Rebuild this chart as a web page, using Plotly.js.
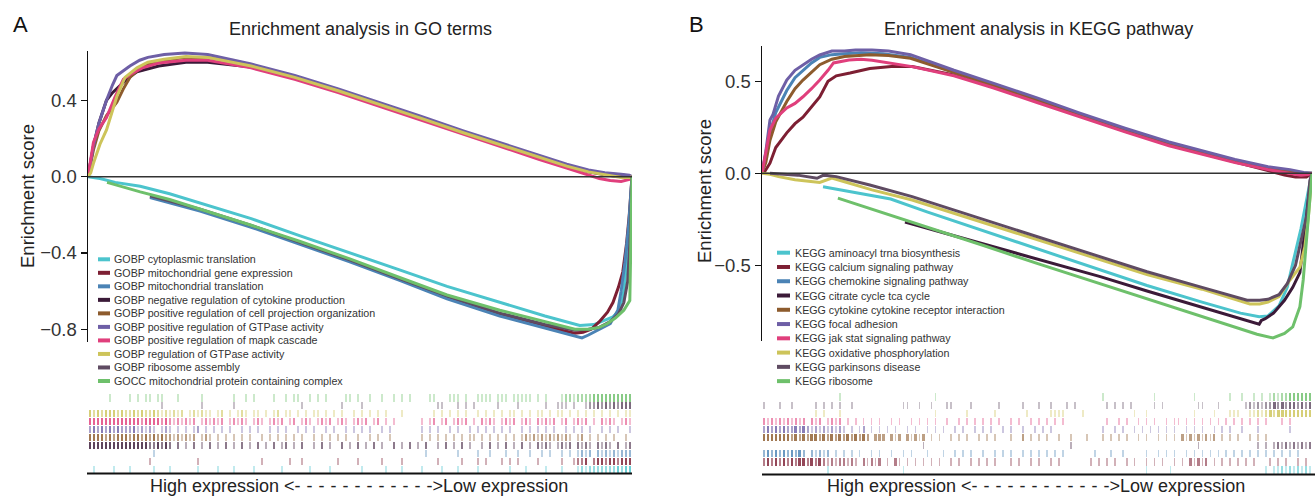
<!DOCTYPE html>
<html><head><meta charset="utf-8">
<script src="https://cdn.plot.ly/plotly-3.0.1.min.js"></script>
<style>html,body{margin:0;padding:0;background:#fff}#chart{width:1315px;height:496px}</style>
</head><body><div id="chart"></div>
<script>
// ---------------- DATA ----------------
// Panel A: GO terms (rank in % of ranked gene list, running enrichment score)
const goNames = [
  'GOBP cytoplasmic translation',
  'GOBP mitochondrial gene expression',
  'GOBP mitochondrial translation',
  'GOBP negative regulation of cytokine production',
  'GOBP positive regulation of cell projection organization',
  'GOBP positive regulation of GTPase activity',
  'GOBP positive regulation of mapk cascade',
  'GOBP regulation of GTPase activity',
  'GOBP ribosome assembly',
  'GOCC mitochondrial protein containing complex'
];
const go_cytoplasmic_translation = [[0,0],[2.2,-0.01],[5,-0.03],[9.6,-0.05],[15,-0.09],[20.6,-0.14],[30,-0.22],[39,-0.31],[48,-0.4],[57.4,-0.49],[66,-0.575],[75.7,-0.66],[84,-0.73],[90.4,-0.78],[93,-0.775],[96.5,-0.735],[97.8,-0.7],[98.5,-0.6],[99.2,-0.4],[99.7,-0.15],[100,0]];
const go_mito_gene_expression = [[11.4,-0.105],[20.6,-0.175],[30,-0.26],[39,-0.35],[48,-0.44],[57.4,-0.54],[66,-0.63],[75.7,-0.72],[84,-0.785],[89.5,-0.82],[91,-0.815],[92.5,-0.8],[94,-0.76],[95.5,-0.71],[96.5,-0.66],[97.5,-0.58],[98.3,-0.5],[99,-0.35],[99.5,-0.2],[100,0]];
const go_mito_translation = [[11.4,-0.11],[20.6,-0.18],[30,-0.265],[39,-0.355],[48,-0.445],[57.4,-0.545],[66,-0.64],[75.7,-0.73],[84,-0.795],[89.5,-0.835],[90.8,-0.845],[92,-0.83],[94,-0.8],[96,-0.77],[97.4,-0.7],[98,-0.6],[98.7,-0.45],[99.4,-0.25],[100,0]];
const go_neg_reg_cytokine = [[0,0],[1,0.16],[2,0.28],[3.4,0.4],[4.5,0.44],[6,0.48],[7.5,0.52],[9,0.55],[11,0.565],[13,0.58],[18,0.6],[22,0.6],[30,0.575],[38,0.52],[46,0.45],[54,0.375],[61,0.308],[69,0.23],[77,0.155],[83,0.1],[88,0.055],[92,0.025],[95,0.01],[98,0.0],[99.5,-0.005],[100,0]];
const go_cell_projection = [[0,0],[1,0.14],[2,0.24],[3.4,0.32],[5.3,0.39],[6.5,0.46],[7.7,0.52],[9.4,0.565],[11,0.59],[14,0.61],[18,0.625],[22,0.625],[30,0.585],[38,0.525],[46,0.455],[54,0.38],[61,0.312],[69,0.235],[77,0.16],[83,0.105],[88,0.06],[92,0.03],[95,0.015],[98,0.01],[99.6,0.005],[100,0]];
const go_pos_gtpase = [[0,0],[1,0.16],[2,0.28],[3.4,0.4],[4.5,0.48],[5.3,0.53],[7.7,0.58],[9.5,0.61],[11,0.625],[14,0.64],[17.8,0.648],[22,0.64],[30,0.59],[38,0.53],[46,0.46],[54,0.385],[61,0.318],[69,0.24],[77,0.165],[83,0.11],[88,0.065],[92,0.035],[95,0.02],[98,0.012],[99.5,0.008],[100,0]];
const go_pos_mapk = [[0,0],[1,0.18],[2,0.25],[3.4,0.31],[5,0.42],[6.5,0.51],[8,0.54],[10,0.57],[13,0.595],[18,0.61],[22,0.61],[30,0.57],[38,0.51],[46,0.44],[54,0.365],[61,0.298],[69,0.22],[77,0.145],[83,0.09],[88,0.045],[92,0.01],[94,-0.01],[96,-0.02],[98,-0.025],[99.5,-0.015],[100,0]];
const go_reg_gtpase = [[0,0],[0.5,0.02],[1,0.07],[2.2,0.17],[3.4,0.245],[5.3,0.42],[6.8,0.52],[9,0.57],[11,0.6],[14,0.615],[18,0.63],[22,0.625],[30,0.58],[38,0.52],[46,0.45],[54,0.375],[61,0.308],[69,0.23],[77,0.155],[83,0.1],[88,0.055],[92,0.025],[95,0.01],[98,-0.005],[99.5,-0.005],[100,0]];
const go_ribosome_assembly = [[11.4,-0.1],[20.6,-0.17],[30,-0.255],[39,-0.345],[48,-0.435],[57.4,-0.535],[66,-0.625],[75.7,-0.715],[84,-0.775],[89.5,-0.805],[92,-0.8],[94,-0.79],[96,-0.76],[97.5,-0.72],[98.5,-0.66],[99.2,-0.55],[99.7,-0.3],[100,0]];
const go_mito_protein_complex = [[3.5,-0.03],[9.6,-0.08],[15,-0.12],[20.6,-0.17],[30,-0.255],[39,-0.34],[48,-0.43],[57.4,-0.53],[66,-0.62],[75.7,-0.7],[84,-0.76],[89.5,-0.8],[92,-0.8],[94,-0.79],[95.5,-0.77],[97,-0.74],[98.5,-0.7],[99.6,-0.65],[100,0]];
// gene-set hits along the ranked list (one char per rank bin; '.' none, 1-3 density)
const goHits = [
  '.1....1... 1.....1... 1......1.. ..1...1... .1......1. .....1.... 1.......1. ....1...1. ...1....1. ..1....1.. .....1...1 ....1...1. ..12122222 223233',
  '.......... .....1.... .......1.. .......... ...1...... 1..1...... ..1....1.. ...1....1. .......1.. ...1...1.1 ...1.1.1.. ..1.....1. .1223.2332 332333',
  '.......... ......1... .......... .......... .......... .......... .......... .......... ....1..... ..1....1.. 1...1..1.. 1..1.1..1. 1.1212.212 121222',
  '3333333333 3333322323 2.2.1.2.1. 2.1.2.1.2. 1.2.1.2.12 .1.2..1.2. 1..2.1.2.1 .2.1..2.1. 2.1.2..1.2 .1.2.1..1. 2.1.2.1.2. 1.2121.121 2.2121.212 1.2.12',
  '3333232333 2332323232 2121212.12 1.1.1.1.1. 1..1.1.1.1 .1.1..1.1. 1.1.1..1.. 1.1..1.... ...1.1.1.1 .1.1.11.1. 1.1.1.1.12 1212121212 1.12.1.1.1 .1..1.',
  '2323232322 2312121.12 1.1.1.12.1 .1.1.1..1. 1.1..1.1.1 ..1.1.1..1 .1..1.1.1. 1..1.1.... ...1.1.1.. 1.1..1.1.1 .1.1.1..1. 1.1.1.1..1 .1.1.1..1. 1.1..1',
  '3333333333 3332333323 2121212.12 1212.12121 .121.1212. 12.121.121 2.121.1212 .12.1.1... ...1.12.12 .1212.1.21 21.1212.12 1.21212.12 .1212.1.21 21.121',
  '3232333232 2323223212 1212.12121 1.12.1.121 .11.1.12.1 1.1.1.11.1 .1.1..1.1. 1.1.1...1. ......1.1. 1.1.1..1.1 .1.1.11.1. 1.11.1.11. 1.1.1.1.1. 1.1.11',
  '.......... ........1. ........1. ......1... .......... ...1...... ...1....1. .......... .......11. ..1.1.1... ..1....1.. ....1..111 .1..122323 232333',
  '.....1.... 1.1.11.11. ..1.....1. ......1..1 .1....1..1 .11..1.1.1 ....11.1.. 1..1..1.1. 1....11... 111.1..111 1.111.1111 1.1.1...12 2122223333 333333'
];

// Panel B: KEGG pathways
const keggNames = [
  'KEGG aminoacyl trna biosynthesis',
  'KEGG calcium signaling pathway',
  'KEGG chemokine signaling pathway',
  'KEGG citrate cycle tca cycle',
  'KEGG cytokine cytokine receptor interaction',
  'KEGG focal adhesion',
  'KEGG jak stat signaling pathway',
  'KEGG oxidative phosphorylation',
  'KEGG parkinsons disease',
  'KEGG ribosome'
];
const kegg_aminoacyl_trna = [[11.1,-0.073],[15,-0.095],[23.4,-0.14],[30,-0.21],[40,-0.31],[50,-0.41],[61.5,-0.525],[70,-0.61],[80,-0.7],[87,-0.76],[90.4,-0.78],[92,-0.775],[94,-0.72],[95.5,-0.62],[96.5,-0.49],[98,-0.3],[99.3,-0.1],[100,0]];
const kegg_calcium = [[0,0],[0.5,0.01],[1.45,0.055],[2.5,0.14],[4.5,0.22],[6,0.27],[7.45,0.305],[9,0.36],[10.5,0.415],[12,0.5],[13.5,0.53],[16,0.545],[19.6,0.57],[23.5,0.58],[27.3,0.58],[34.9,0.535],[42,0.47],[50,0.39],[57.8,0.31],[66,0.23],[74,0.155],[80.6,0.105],[86,0.06],[92,0.015],[95,-0.01],[97,-0.02],[99,-0.02],[100,0]];
const kegg_chemokine = [[0,0],[0.7,0.1],[1.45,0.22],[2.5,0.33],[4.5,0.45],[6,0.52],[7.45,0.56],[9,0.6],[10.5,0.63],[12.7,0.645],[15,0.65],[18,0.655],[22,0.65],[27,0.63],[34.9,0.55],[42,0.48],[50,0.4],[57.8,0.318],[66,0.237],[74,0.163],[80.6,0.11],[86,0.068],[92,0.03],[96,0.012],[98.5,0],[100,0]];
const kegg_citrate_tca = [[26,-0.265],[35,-0.34],[45,-0.425],[55,-0.505],[61.5,-0.562],[70,-0.64],[80,-0.73],[88,-0.8],[90.4,-0.82],[90.8,-0.8],[91.5,-0.79],[93,-0.76],[95,-0.69],[96.5,-0.62],[97.8,-0.54],[98.7,-0.31],[99.3,-0.15],[100,0]];
const kegg_cytokine_receptor = [[0,0],[0.7,0.06],[1.45,0.18],[2.5,0.28],[4.5,0.39],[6,0.46],[7.45,0.507],[9,0.55],[10.5,0.59],[12.7,0.62],[15,0.635],[19.6,0.645],[23,0.64],[27,0.625],[34.9,0.55],[42,0.48],[50,0.4],[57.8,0.32],[66,0.24],[74,0.165],[80.6,0.112],[86,0.07],[92,0.03],[96,0.01],[98.5,0],[100,0]];
const kegg_focal_adhesion = [[0,0],[0.7,0.12],[1.45,0.29],[2,0.32],[3,0.42],[4.5,0.507],[6,0.56],[7.45,0.589],[9,0.62],[10.5,0.643],[12.7,0.665],[15,0.665],[17,0.67],[20,0.67],[23,0.665],[27,0.645],[34.9,0.56],[42,0.49],[50,0.41],[57.8,0.327],[66,0.245],[74,0.17],[80.6,0.117],[86,0.075],[92,0.036],[96,0.02],[98.5,0.005],[100,0]];
const kegg_jak_stat = [[0,0],[0.7,0.12],[1.45,0.235],[2.5,0.3],[4.5,0.355],[6,0.38],[7.45,0.416],[9,0.46],[10.5,0.507],[12,0.56],[13,0.6],[15.8,0.616],[18,0.62],[20,0.615],[23,0.6],[27.3,0.58],[34.9,0.53],[42,0.465],[50,0.385],[57.8,0.305],[66,0.225],[74,0.15],[80.6,0.1],[86,0.058],[92,0.02],[96,0],[98,-0.01],[99.5,-0.005],[100,0]];
const kegg_oxphos = [[0,0],[1.45,-0.005],[3,-0.018],[6,-0.035],[10.5,-0.05],[12.7,-0.026],[15,-0.046],[20,-0.09],[27.3,-0.145],[40,-0.266],[50,-0.36],[61.5,-0.47],[70,-0.55],[80,-0.63],[88.7,-0.71],[90.5,-0.71],[92,-0.7],[94,-0.67],[96,-0.58],[97.8,-0.51],[98.7,-0.4],[99.3,-0.25],[100,0]];
const kegg_parkinsons = [[1.45,0],[6.5,-0.01],[10,-0.027],[11.2,-0.01],[13.5,-0.018],[19.6,-0.064],[27.3,-0.127],[40,-0.248],[50,-0.344],[61.5,-0.454],[70,-0.535],[80,-0.62],[88.2,-0.69],[90.5,-0.69],[92,-0.685],[94,-0.66],[95.5,-0.6],[97,-0.5],[97.8,-0.4],[99.1,-0.22],[99.6,-0.04],[100,0]];
const kegg_ribosome = [[13.8,-0.135],[20,-0.195],[30,-0.29],[40,-0.39],[50,-0.49],[61.5,-0.6],[70,-0.685],[80,-0.78],[87,-0.845],[90,-0.875],[92.9,-0.895],[95,-0.87],[96.5,-0.835],[97.8,-0.725],[98.4,-0.58],[99.1,-0.31],[99.8,-0.035],[100,0]];
const keggHits = [
  '.......... ......1... .......... .....1.... .......... .......... .......... .......... .......... ......1... ..1....... .......... ......1.11 21212121',
  '2323232323 3232321212 2121.21212 .1.21.1.1. 1.1.1..1.1 ..1.1.1.1. ..1.1..1.1 ..1.1..... ..1.1.1.1. .1.1..1.1. 1..1.1.212 12.1.1.1.1 .1.1...1.1 .1..1.1.',
  '2323232323 2.21212.1. 1.1.1..1.1 ..1..1.1.. .1...1..1. 1.1..1..1. 1.1..1.1.1 .1.1.1.... ...1...1.. 1.....1..1 .1.1..1.1. 1.1.1.1.1. 1.1.1.1.1. 1.1.1...',
  '.......... .......... .......... .......... 1......... .......... .......... .......1.. .......... .......... .........1 .......... ....1.1.12 12121212',
  '3333333232 3233232323 2323232.22 2.212.2121 2.1.1..1.1 .1..1.1.1. ..1..2.1.1 .1..1..1.. .1...1.1.1 .1..1.1..1 .1.1.21212 1212.1.1.1 ..1.1.1... ........',
  '2323232232 3212121212 1.1.12.1.1 .1.1..1.1. .1.1.1..1. 1..1.1.1.. 1.1..1..1. 1.1....... .....1..1. 1..1.1.1.1 .1.1..1.1. 1..1.1.1.. 1...1..... ..1.....',
  '2121212121 2.212.1212 .1.1.1.1.1 ..1.1..1.1 .1.1..1..1 .1.1.1.1.1 ..1.1..1.1 .1.1.1.... ......1..1 .1..1.1.1. .1.11.1.1. 1.1.1.1.1. 1.1.1.1... 1.1.....',
  '.......... ...1.1...1 .......... .......... ...1...... .1......1. ......1... ..1111.... 1......... ...1..1... ........1. ...1...111 ..11212323 33333333',
  '1...1..1.. ...1.1.1.1 ..1....... .....11..1 ..1...11.. ..1......1 .....1...1 ..1...1.1. ......1.1. 1.1.....1. 1........1 1...1..... .121212232 32332323',
  '.......... .........1 .......... .......... ...1...... .......... .......... .......... .....1.... ........1. ........1. .......1.. 1..1.1.121 22333333'
];

const palette = ['#4cc4cd','#7d1f33','#4b83b5','#3b1a38','#8d5b2d','#6e5fa6','#e03f7c','#cdc45a','#5f4b62','#6ec06b'];
const goTicks = [-0.8,-0.4,0,0.4];
const goTickText = ['\u22120.8','\u22120.4','0.0','0.4'];
const keggTicks = [-0.5,0,0.5];
const keggTickText = ['\u22120.5','0.0','0.5'];
const titleA = 'Enrichment analysis in GO terms';
const titleB = 'Enrichment analysis in KEGG pathway';
const yTitle = 'Enrichment score';
const xNote = 'High expression <------------>Low expression';

const goSeries = [go_cytoplasmic_translation, go_mito_gene_expression, go_mito_translation, go_neg_reg_cytokine, go_cell_projection, go_pos_gtpase, go_pos_mapk, go_reg_gtpase, go_ribosome_assembly, go_mito_protein_complex];
const keggSeries = [kegg_aminoacyl_trna, kegg_calcium, kegg_chemokine, kegg_citrate_tca, kegg_cytokine_receptor, kegg_focal_adhesion, kegg_jak_stat, kegg_oxphos, kegg_parkinsons, kegg_ribosome];

// ---------------- DRAWING ----------------
const W = 1315, H = 496;
const px = x => x / W, py = y => 1 - y / H;
const FONT = 'Liberation Sans, Arial, Helvetica, sans-serif';

function rgba(hex, a){
  const n = parseInt(hex.slice(1), 16);
  return 'rgba(' + ((n >> 16) & 255) + ',' + ((n >> 8) & 255) + ',' + (n & 255) + ',' + a + ')';
}
function lineTrace(pts, color, xa, ya){
  return {type:'scatter', mode:'lines', x: pts.map(p => p[0]), y: pts.map(p => p[1]),
    xaxis: xa, yaxis: ya, line: {color: color, width: 3}, hoverinfo: 'skip', showlegend: false};
}
function barcodeTrace(str, row, color, xa, ya){
  const s = str.replace(/ /g, ''); const n = s.length;
  const xs = [], ws = [], cs = [];
  const wmap = [0, 0.42, 0.55, 0.7], amap = [0, 0.35, 0.58, 0.82];
  for (let i = 0; i < n; i++){
    const c = s[i]; if (c === '.') continue; const l = +c;
    xs.push((i + 0.5) * 100 / n); ws.push(wmap[l] * 100 / n); cs.push(rgba(color, amap[l]));
  }
  return {type:'bar', x: xs, y: xs.map(() => 0.9), base: xs.map(() => row + 0.05), width: ws,
    marker: {color: cs, line: {width: 0}}, xaxis: xa, yaxis: ya, hoverinfo: 'skip', showlegend: false};
}

const traces = [];
goSeries.forEach((s, i) => traces.push(lineTrace(s, palette[i], 'x', 'y')));
keggSeries.forEach((s, i) => traces.push(lineTrace(s, palette[i], 'x2', 'y2')));
goHits.forEach((s, i) => traces.push(barcodeTrace(s, i, palette[i], 'x', 'y3')));
keggHits.forEach((s, i) => traces.push(barcodeTrace(s, i, palette[i], 'x2', 'y4')));

const yStyle = {showline: true, linecolor: '#111', linewidth: 1.5, ticks: 'outside', ticklen: 6,
  tickwidth: 1.5, tickcolor: '#111', tickfont: {family: FONT, size: 18.5, color: '#333'},
  showgrid: false, zeroline: false, fixedrange: true};

const annotations = [], shapes = [];
function txt(t, x, y, size, opts){
  annotations.push(Object.assign({text: t, x: px(x), y: py(y), xref: 'paper', yref: 'paper',
    showarrow: false, xanchor: 'center', yanchor: 'middle', font: {family: FONT, size: size, color: '#222'}}, opts || {}));
}
txt('A', 20, 24.5, 22, {font: {family: FONT, size: 22, color: '#111'}});
txt('B', 696, 24.5, 22, {font: {family: FONT, size: 22, color: '#111'}});
txt(titleA, 360.5, 29, 18);
txt(titleB, 1038, 29, 18);
txt(yTitle, 27, 196, 18.5, {textangle: -90});
txt(yTitle, 705, 191, 18.5, {textangle: -90});
const noteText = xNote.replace(/-(?=-)/g, '-\u2004');
txt(noteText, 358.6, 485.5, 18);
txt(noteText, 1035.6, 485.5, 18);

// legends
goNames.forEach((nm, i) => {
  const y = 259.3 + i * 13.52;
  shapes.push({type: 'line', xref: 'paper', yref: 'paper', x0: px(98), x1: px(110), y0: py(y), y1: py(y), line: {color: palette[i], width: 4}});
  txt(nm, 112, y, 10.7, {xanchor: 'left', font: {family: FONT, size: 10.7, color: '#333'}});
});
keggNames.forEach((nm, i) => {
  const y = 252.7 + i * 14.27;
  shapes.push({type: 'line', xref: 'paper', yref: 'paper', x0: px(777), x1: px(790), y0: py(y), y1: py(y), line: {color: palette[i], width: 4}});
  txt(nm, 793, y, 10.7, {xanchor: 'left', font: {family: FONT, size: 10.7, color: '#333'}});
});
// zero lines and barcode baselines
shapes.push({type: 'line', xref: 'x', yref: 'y', x0: 0, x1: 100, y0: 0, y1: 0, line: {color: '#333', width: 1.5}, layer: 'above'});
shapes.push({type: 'line', xref: 'x2', yref: 'y2', x0: 0, x1: 100, y0: 0, y1: 0, line: {color: '#333', width: 1.5}, layer: 'above'});
shapes.push({type: 'line', xref: 'paper', yref: 'paper', x0: px(87), x1: px(632), y0: py(473.5), y1: py(473.5), line: {color: '#111', width: 2}});
shapes.push({type: 'line', xref: 'paper', yref: 'paper', x0: px(762), x1: px(1315), y0: py(474.5), y1: py(474.5), line: {color: '#111', width: 2}});

const layout = {
  width: W, height: H, autosize: false, margin: {l: 0, r: 0, t: 0, b: 0},
  paper_bgcolor: '#fff', plot_bgcolor: 'rgba(0,0,0,0)', showlegend: false, hovermode: false,
  barmode: 'overlay', bargap: 0,
  font: {family: FONT},
  xaxis: {domain: [px(88), px(632)], range: [0, 100], visible: false, anchor: 'y', fixedrange: true},
  yaxis: Object.assign({}, yStyle, {domain: [py(341.7), py(50.7)], range: [-0.865, 0.66], anchor: 'x', tickvals: goTicks, ticktext: goTickText}),
  xaxis2: {domain: [px(762), px(1312)], range: [0, 100], visible: false, anchor: 'y2', fixedrange: true},
  yaxis2: Object.assign({}, yStyle, {domain: [py(340.7), py(46)], range: [-0.91, 0.692], anchor: 'x2', tickvals: keggTicks, ticktext: keggTickText}),
  yaxis3: {domain: [py(473), py(394)], range: [0, 10], visible: false, anchor: 'x', fixedrange: true},
  yaxis4: {domain: [py(474), py(393)], range: [0, 10], visible: false, anchor: 'x2', fixedrange: true},
  annotations: annotations, shapes: shapes
};
Plotly.newPlot('chart', traces, layout, {staticPlot: true, displayModeBar: false});
</script>
</body></html>
